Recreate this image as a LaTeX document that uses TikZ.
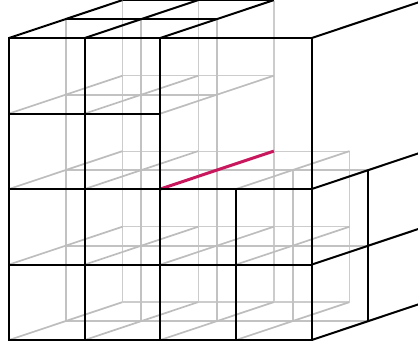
\documentclass[tikz,border=0pt]{standalone}
\definecolor{hotred}{HTML}{C8175D}
\tikzset{
  blk/.style={draw=black,line width=2bp},
  midg/.style={draw=black!24,line width=1.9bp},
  backg/.style={draw=black!20,line width=1.4bp},
  diag/.style={draw=black!26,line width=1.7bp},
  hot/.style={draw=hotred,line width=3bp}
}
\begin{document}
\begin{tikzpicture}[x=1bp,y=-1bp]
\useasboundingbox (0,0) rectangle (418,345);
\clip (0,0) rectangle (418,345);
% back layer
\foreach \x in {122.5,198.3,273.8} \draw[backg] (\x,0.5) -- (\x,302);
\draw[backg] (349.4,151.2) -- (349.4,302);
\draw[backg] (122.5,75.6) -- (273.8,75.6);
\foreach \y in {151.2,226.6,302} \draw[backg] (122.5,\y) -- (349.4,\y);
% middle layer
\foreach \x in {66,141.4,216.9} \draw[midg] (\x,19) -- (\x,321);
\draw[midg] (292.7,170) -- (292.7,321);
\draw[midg] (66,94.6) -- (216.9,94.6);
\foreach \y in {170,245.6,321} \draw[midg] (66,\y) -- (368,\y);
% hidden depth lines
\foreach \x in {9,84.7,160.3} \draw[diag] (\x,113.6) -- ++(113.5,-37.9);
\foreach \x in {9,84.7,236} \draw[diag] (\x,189) -- ++(113.5,-37.9);
\foreach \y in {264.6,340} \foreach \x in {9,84.7,160.3,236} \draw[diag] (\x,\y) -- ++(113.5,-37.9);
% highlighted edge
\draw[hot] (160.3,189) -- ++(113.5,-37.9);
% front face
\foreach \x in {9,84.7,160.3} \draw[blk] (\x,38) -- (\x,340);
\draw[blk] (236,189) -- (236,340);
\draw[blk] (311.7,38) -- (311.7,340);
\draw[blk,line cap=rect] (9,38) -- (311.7,38);
\draw[blk] (9,113.6) -- (160.3,113.6);
\foreach \y in {189,264.6,340} \draw[blk,line cap=rect] (9,\y) -- (311.7,\y);
% top and right faces
\foreach \x in {9,84.7,160.3} \draw[blk] (\x,38) -- ++(113.5,-37.9);
\draw[blk] (311.7,38) -- ++(113.5,-37.9);
\draw[blk] (66,19) -- (216.9,19);
\draw[blk] (122.5,0.3) -- (273.8,0.3);
\foreach \y in {189,264.6,340} \draw[blk] (311.7,\y) -- ++(113.5,-37.9);
\draw[blk] (368,170) -- (368,321);
\end{tikzpicture}
\end{document}
